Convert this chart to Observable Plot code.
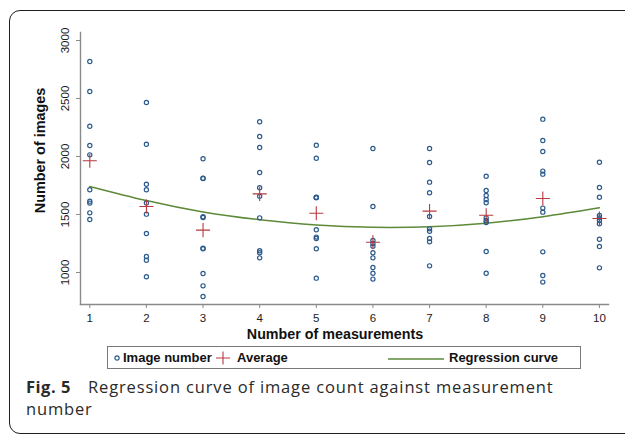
<!DOCTYPE html>
<html>
<head>
<meta charset="utf-8">
<script src="https://cdn.jsdelivr.net/npm/d3@7"></script>
<script src="https://cdn.jsdelivr.net/npm/@observablehq/plot@0.6"></script>
<style>
  html, body { margin: 0; padding: 0; background: #fff; }
  #wrap { position: relative; width: 625px; height: 434px; overflow: hidden; background: #fff; }
  #border { position: absolute; left: 9px; top: 10px; width: 720px; height: 422px; border: 1px solid #1e1e1e; border-radius: 11px; }
  #chart { position: absolute; left: 0; top: 0; }
  #legend { position: absolute; left: 107px; top: 346px; width: 474px; height: 23px; box-sizing: border-box; border: 1px solid #7a7a7a;
            font-family: "Liberation Sans", Arial, sans-serif; font-weight: bold; font-size: 13px; color: #111; }
  #legend .it { position: absolute; top: 0; line-height: 21px; white-space: nowrap; }
  #legend svg { position: absolute; }
  .cap { position: absolute; font-family: "Open Sans", sans-serif; font-size: 16.5px; letter-spacing: 0.85px; line-height: 22px;
         color: #2a2a2a; white-space: nowrap; }
  .cap.b { font-weight: bold; letter-spacing: 0.5px; }
</style>
</head>
<body>
<div id="wrap">
  <div id="border"></div>
  <div id="chart"></div>
  <div id="legend"></div>
  <div id="cap1" class="cap b" style="left:26px;top:376px"></div>
  <div id="cap2" class="cap" style="left:88px;top:376px"></div>
  <div id="cap3" class="cap" style="left:26px;top:398px"></div>
</div>
<script>
// ---- data ----
const measurements = [1, 2, 3, 4, 5, 6, 7, 8, 9, 10];
const imagesM1  = [2819, 2560, 2261, 2095, 2014, 1713, 1615, 1598, 1514, 1457];
const imagesM2  = [2466, 2106, 1761, 1713, 1600, 1503, 1336, 1138, 1106, 963];
const imagesM3  = [1980, 1813, 1810, 1480, 1474, 1210, 1205, 991, 885, 793];
const imagesM4  = [2299, 2172, 2078, 1862, 1730, 1658, 1471, 1187, 1170, 1126];
const imagesM5  = [2097, 1985, 1649, 1647, 1645, 1368, 1305, 1293, 1204, 951];
const imagesM6  = [2069, 1569, 1276, 1250, 1227, 1170, 1126, 1043, 994, 943];
const imagesM7  = [2069, 1948, 1779, 1687, 1483, 1376, 1356, 1293, 1264, 1057];
const imagesM8  = [1830, 1707, 1664, 1629, 1601, 1471, 1448, 1431, 1181, 994];
const imagesM9  = [2322, 2138, 2043, 1874, 1848, 1555, 1520, 1178, 974, 917];
const imagesM10 = [1951, 1733, 1649, 1491, 1471, 1448, 1420, 1287, 1224, 1040];
const averages   = [1963, 1569, 1365, 1678, 1511, 1261, 1529, 1494, 1638, 1466];
const regression = [1742, 1620, 1522, 1455, 1410, 1390, 1395, 1425, 1481, 1558];
const xTicks = [1, 2, 3, 4, 5, 6, 7, 8, 9, 10];
const yTicks = [1000, 1500, 2000, 2500, 3000];
const xLabel = "Number of measurements";
const yLabel = "Number of images";
const legendLabels = ["Image number", "Average", "Regression curve"];
const captionBold = "Fig. 5";
const captionLines = ["Regression curve of image count against measurement", "number"];

// ---- tables ----
const columns = [imagesM1, imagesM2, imagesM3, imagesM4, imagesM5, imagesM6, imagesM7, imagesM8, imagesM9, imagesM10];
const points = columns.flatMap((vals, i) => vals.map(v => ({m: measurements[i], n: v})));
const avgData = measurements.map((m, i) => ({m, n: averages[i]}));
const regData = measurements.map((m, i) => ({m, n: regression[i]}));

const BLUE = "#2c5b8c", RED = "#b8393f", GREEN = "#5d8a38", AXIS = "#8a8a8a";

const chart = Plot.plot({
  width: 625,
  height: 345,
  marginLeft: 80,
  marginRight: 17,
  marginTop: 32,
  marginBottom: 41,
  style: {fontFamily: "'Liberation Sans', Arial, sans-serif", background: "transparent", color: "#1a1a1a"},
  x: {domain: [0.836, 10.16]},
  y: {domain: [724, 3069]},
  marks: [
    Plot.frame({anchor: "left", stroke: AXIS, strokeWidth: 1.4}),
    Plot.frame({anchor: "bottom", stroke: AXIS, strokeWidth: 1.4}),
    Plot.axisY({ticks: yTicks, tickFormat: d => String(d), tickSize: 4, tickPadding: 8, tickRotate: -90, textAnchor: "middle", lineAnchor: "bottom",
                fontSize: 11.5, label: null, stroke: AXIS, fill: "#1a1a1a"}),
    Plot.axisX({ticks: xTicks, tickFormat: d => String(d), tickSize: 4, tickPadding: 5, fontSize: 11.5, label: null, stroke: AXIS, fill: "#1a1a1a"}),
    Plot.text([yLabel], {frameAnchor: "left", text: d => d, rotate: -90, textAnchor: "middle", lineAnchor: "middle", dx: -40, dy: -18, fontWeight: "bold", fontSize: 14.4, fill: "#111"}),
    Plot.text([xLabel], {frameAnchor: "bottom", text: d => d, textAnchor: "middle", dx: -9.5, dy: 29.5, lineAnchor: "middle", fontWeight: "bold", fontSize: 14.3, fill: "#111"}),
    Plot.line(regData, {x: "m", y: "n", curve: "natural", stroke: GREEN, strokeWidth: 1.5}),
    Plot.dot(points, {x: "m", y: "n", r: 2.1, stroke: BLUE, strokeWidth: 1.2, fill: "none"}),
    Plot.dot(avgData, {x: "m", y: "n", symbol: "plus", r: 4.6, stroke: RED, strokeWidth: 1.1})
  ]
});
document.getElementById("chart").appendChild(chart);

// ---- legend ----
const legend = document.getElementById("legend");
legend.innerHTML = `
  <svg width="10" height="10" style="left:4px;top:6px"><circle cx="5" cy="5" r="2.1" fill="none" stroke="${BLUE}" stroke-width="1.2"/></svg>
  <span class="it" style="left:15px">${legendLabels[0]}</span>
  <svg width="14" height="14" style="left:108px;top:4px"><path d="M0,7H14M7,0.5V13.5" stroke="${RED}" stroke-width="1.1"/></svg>
  <span class="it" style="left:129px">${legendLabels[1]}</span>
  <svg width="56" height="4" style="left:280px;top:10px"><path d="M0,2H56" stroke="${GREEN}" stroke-width="1.3"/></svg>
  <span class="it" style="left:341px">${legendLabels[2]}</span>`;

// ---- caption ----
document.getElementById("cap1").textContent = captionBold;
document.getElementById("cap2").textContent = captionLines[0];
document.getElementById("cap3").textContent = captionLines[1];
</script>
</body>
</html>
